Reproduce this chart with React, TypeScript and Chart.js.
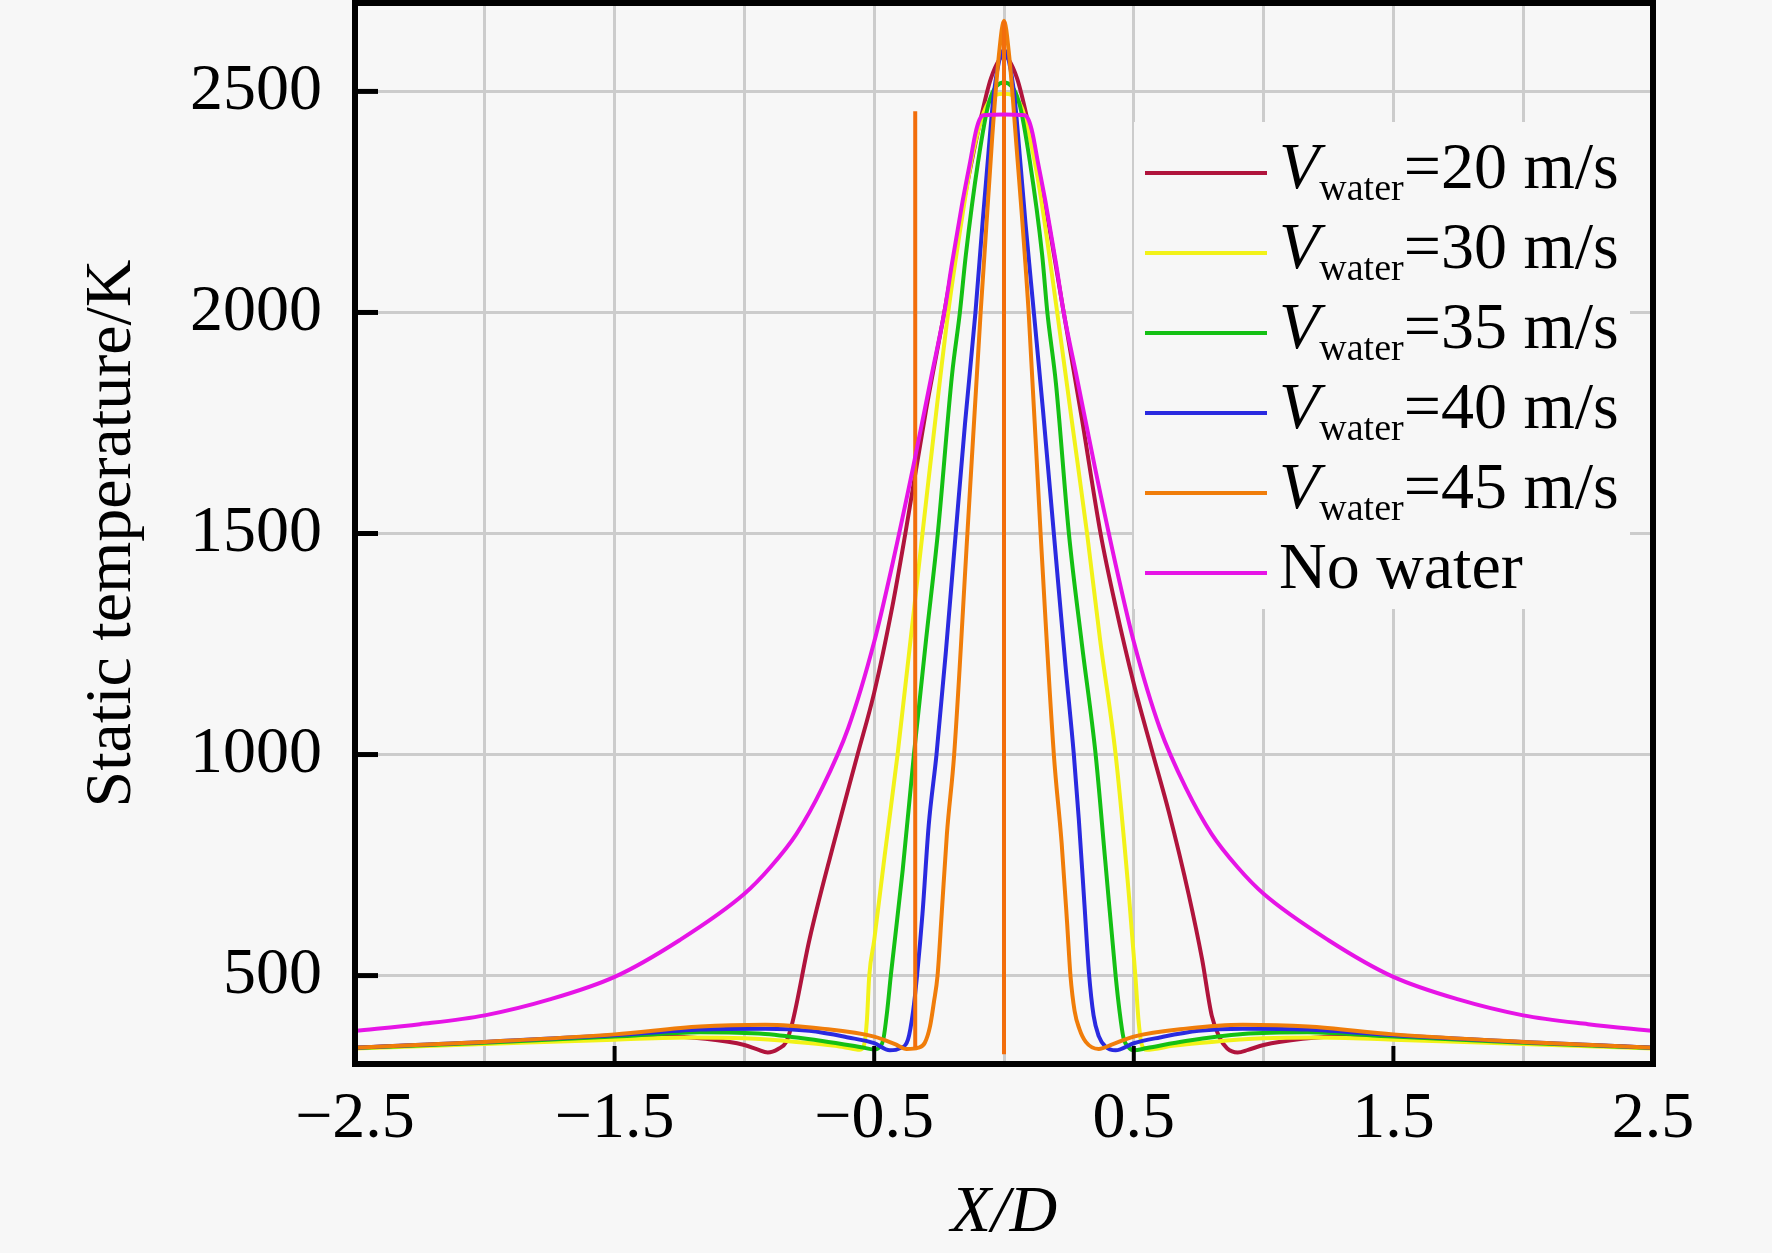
import { useEffect, useRef } from 'react';
import { Chart, registerables } from 'chart.js';

Chart.register(...registerables);

const FONT = "'Liberation Serif', 'Times New Roman', Times, serif";

// axis ticks
const X_GRID = [-2.5, -2, -1.5, -1, -0.5, 0, 0.5, 1, 1.5, 2, 2.5];
const X_LABELED = [-2.5, -1.5, -0.5, 0.5, 1.5, 2.5];
const Y_TICKS = [500, 1000, 1500, 2000, 2500];

// [X/D, static temperature K]
const V20: [number, number][] = [
  [-2.5, 337], [-2.0, 348], [-1.5, 360], [-1.3, 363], [-1.15, 357], [-1.0, 343], [-0.95, 333],
  [-0.91, 326], [-0.87, 334], [-0.84, 349], [-0.815, 394], [-0.75, 580], [-0.66, 790],
  [-0.564, 1000], [-0.5, 1140], [-0.43, 1335], [-0.38, 1500], [-0.3, 1780], [-0.23, 2000],
  [-0.16, 2235], [-0.1, 2410], [-0.05, 2530], [0, 2580], [0.05, 2530], [0.1, 2410], [0.16, 2240],
  [0.23, 2000], [0.3, 1760], [0.372, 1500], [0.43, 1335], [0.5, 1160], [0.574, 1000],
  [0.635, 870], [0.712, 682], [0.763, 537], [0.8, 410], [0.83, 360], [0.86, 335], [0.9, 326],
  [0.94, 332], [1.0, 343], [1.15, 357], [1.3, 363], [1.5, 360], [2.0, 348], [2.5, 337],
];

const V30: [number, number][] = [
  [-2.5, 335], [-2.0, 345], [-1.5, 355], [-1.2, 360], [-1.0, 358], [-0.8, 350], [-0.65, 341],
  [-0.58, 334], [-0.555, 332], [-0.538, 345], [-0.528, 400], [-0.519, 500], [-0.5, 580],
  [-0.46, 770], [-0.41, 1000], [-0.314, 1500], [-0.26, 1780], [-0.215, 2000], [-0.16, 2220],
  [-0.12, 2360], [-0.065, 2470], [0, 2495], [0.065, 2468], [0.125, 2320], [0.205, 2000],
  [0.26, 1760], [0.32, 1500], [0.37, 1260], [0.43, 1000], [0.48, 690], [0.506, 500], [0.518, 400],
  [0.53, 345], [0.55, 332], [0.58, 334], [0.65, 341], [0.8, 350], [1.0, 358], [1.2, 360],
  [1.5, 355], [2.0, 345], [2.5, 335],
];

const V35: [number, number][] = [
  [-2.5, 336], [-2.0, 348], [-1.5, 362], [-1.17, 372], [-0.92, 368], [-0.7, 352], [-0.55, 338],
  [-0.5, 333], [-0.48, 338], [-0.465, 355], [-0.45, 420], [-0.436, 500], [-0.39, 740],
  [-0.347, 1000], [-0.3, 1261], [-0.255, 1500], [-0.2, 1860], [-0.17, 2000], [-0.147, 2130],
  [-0.1, 2340], [-0.058, 2475], [0, 2520], [0.058, 2475], [0.1, 2340], [0.147, 2130],
  [0.167, 2000], [0.2, 1840], [0.25, 1500], [0.3, 1250], [0.353, 1000], [0.39, 760], [0.43, 500],
  [0.445, 420], [0.46, 360], [0.48, 338], [0.5, 331], [0.55, 336], [0.7, 352], [0.92, 368],
  [1.17, 372], [1.5, 362], [2.0, 348], [2.5, 336],
];

const V40: [number, number][] = [
  [-2.5, 337], [-2.0, 350], [-1.5, 365], [-1.17, 378], [-0.92, 380], [-0.75, 375], [-0.6, 360],
  [-0.5, 347], [-0.44, 331], [-0.4, 336], [-0.37, 355], [-0.35, 420], [-0.335, 500],
  [-0.314, 640], [-0.29, 840], [-0.26, 1000], [-0.224, 1232], [-0.186, 1500], [-0.15, 1750],
  [-0.11, 2000], [-0.083, 2200], [-0.06, 2360], [-0.04, 2490], [-0.02, 2565], [0, 2595],
  [0.02, 2565], [0.04, 2490], [0.06, 2360], [0.083, 2200], [0.115, 2000], [0.15, 1780],
  [0.192, 1500], [0.237, 1200], [0.269, 1000], [0.288, 855], [0.31, 660], [0.327, 508],
  [0.345, 410], [0.365, 363], [0.39, 340], [0.43, 331], [0.5, 347], [0.6, 360], [0.75, 375],
  [0.92, 380], [1.17, 378], [1.5, 365], [2.0, 350], [2.5, 337],
];

const V45: [number, number][] = [
  [-2.5, 337], [-2.0, 350], [-1.5, 367], [-1.17, 385], [-0.92, 389], [-0.7, 380], [-0.5, 362],
  [-0.42, 345], [-0.375, 334], [-0.33, 337], [-0.305, 348], [-0.285, 385], [-0.27, 440],
  [-0.256, 500], [-0.24, 640], [-0.22, 820], [-0.192, 1000], [-0.141, 1500], [-0.09, 2000],
  [-0.045, 2400], [-0.02, 2580], [0, 2660], [0.02, 2580], [0.045, 2400], [0.095, 2000],
  [0.141, 1500], [0.192, 1000], [0.222, 800], [0.243, 620], [0.256, 500], [0.272, 420],
  [0.29, 380], [0.315, 350], [0.365, 334], [0.42, 345], [0.5, 362], [0.7, 380], [0.92, 389],
  [1.17, 385], [1.5, 367], [2.0, 350], [2.5, 337],
];

// the two vertical jumps in the 45 m/s curve
const V45_JUMP_A: [number, number][] = [[-0.342, 338], [-0.342, 2455]];
const V45_JUMP_B: [number, number][] = [[0, 322], [0, 2660]];

const NO_WATER: [number, number][] = [
  [-2.5, 375], [-2.25, 390], [-2.0, 410], [-1.75, 446], [-1.5, 497], [-1.25, 580], [-1.0, 685],
  [-0.9, 745], [-0.8, 820], [-0.7, 925], [-0.6, 1060], [-0.5, 1255], [-0.43, 1430], [-0.35, 1650],
  [-0.28, 1855], [-0.23, 2000], [-0.2, 2112], [-0.16, 2250], [-0.13, 2342], [-0.11, 2405],
  [-0.095, 2435], [-0.08, 2446], [0, 2448], [0.08, 2446], [0.095, 2435], [0.11, 2405],
  [0.13, 2342], [0.16, 2250], [0.2, 2112], [0.23, 2000], [0.28, 1855], [0.35, 1650], [0.43, 1430],
  [0.5, 1255], [0.6, 1060], [0.7, 925], [0.8, 820], [0.9, 745], [1.0, 685], [1.25, 580],
  [1.5, 497], [1.75, 446], [2.0, 410], [2.25, 390], [2.5, 375],
];

const LEGEND = [
  { text: '=20 m/s', sub: true, color: '#b0143c' },
  { text: '=30 m/s', sub: true, color: '#f2f218' },
  { text: '=35 m/s', sub: true, color: '#14c014' },
  { text: '=40 m/s', sub: true, color: '#2a2ae0' },
  { text: '=45 m/s', sub: true, color: '#f07d0a' },
  { text: 'No water', sub: false, color: '#e614e6' },
];

const toXY = (pts: [number, number][]) => pts.map(([x, y]) => ({ x, y }));

const fmtX = (v: number) => (v < 0 ? '\u2212' + Math.abs(v).toFixed(1) : v.toFixed(1));

const framePlugin = {
  id: 'frame',
  afterDatasetsDraw(chart: any) {
    const { ctx, chartArea: a, scales } = chart;
    ctx.save();
    ctx.strokeStyle = '#000';
    ctx.lineWidth = 4;
    X_LABELED.forEach((v) => {
      const px = scales.x.getPixelForValue(v);
      ctx.beginPath();
      ctx.moveTo(px, a.bottom);
      ctx.lineTo(px, a.bottom - 18);
      ctx.stroke();
    });
    ctx.lineWidth = 5;
    Y_TICKS.forEach((v) => {
      const py = scales.y.getPixelForValue(v);
      ctx.beginPath();
      ctx.moveTo(a.left, py);
      ctx.lineTo(a.left + 23, py);
      ctx.stroke();
    });
    ctx.lineWidth = 6;
    ctx.strokeRect(a.left, a.top, a.right - a.left, a.bottom - a.top);
    ctx.restore();
  },
};

const legendPlugin = {
  id: 'subLegend',
  afterDraw(chart: any) {
    const { ctx, chartArea: a } = chart;
    ctx.save();
    // legend box hides the grid behind it
    ctx.fillStyle = '#f7f7f7';
    ctx.fillRect(a.left + 779, a.top + 119, 496, 487);
    ctx.textBaseline = 'alphabetic';
    LEGEND.forEach((item, i) => {
      const y = a.top + 170 + 80 * i;
      ctx.strokeStyle = item.color;
      ctx.lineWidth = 4;
      ctx.beginPath();
      ctx.moveTo(a.left + 790, y);
      ctx.lineTo(a.left + 912, y);
      ctx.stroke();
      ctx.fillStyle = '#000';
      let tx = a.left + 924;
      const base = y + 15;
      if (item.sub) {
        ctx.font = `italic 66px ${FONT}`;
        ctx.fillText('V', tx, base);
        tx += ctx.measureText('V').width;
        ctx.font = `38px ${FONT}`;
        ctx.fillText('water', tx, base + 12);
        tx += ctx.measureText('water').width;
      }
      ctx.font = `66px ${FONT}`;
      ctx.fillText(item.text, tx, base);
    });
    ctx.restore();
  },
};

export default function App() {
  const canvasRef = useRef<HTMLCanvasElement | null>(null);
  const chartRef = useRef<Chart | null>(null);

  useEffect(() => {
    document.body.style.margin = '0';
    document.body.style.background = '#f7f7f7';
    if (!canvasRef.current) return;
    if (chartRef.current) chartRef.current.destroy();

    const line = (data: [number, number][], color: string, order: number, smooth = true) => ({
      data: toXY(data),
      borderColor: color,
      backgroundColor: color,
      borderWidth: 4,
      pointRadius: 0,
      fill: false,
      order,
      cubicInterpolationMode: smooth ? ('monotone' as const) : ('default' as const),
      tension: smooth ? 0.4 : 0,
    });

    chartRef.current = new Chart(canvasRef.current, {
      type: 'line',
      data: {
        datasets: [
          line(V20, LEGEND[0].color, 7),
          line(V30, LEGEND[1].color, 6),
          line(V35, LEGEND[2].color, 5),
          line(V40, LEGEND[3].color, 4),
          line(V45, LEGEND[4].color, 3),
          line(V45_JUMP_A, '#f26e0c', 2, false),
          line(V45_JUMP_B, '#f26e0c', 2, false),
          line(NO_WATER, LEGEND[5].color, 1),
        ],
      },
      options: {
        responsive: true,
        maintainAspectRatio: false,
        animation: false,
        devicePixelRatio: 1,
        layout: { padding: { top: 3, right: 119, bottom: 0, left: 0 } },
        plugins: { legend: { display: false }, tooltip: { enabled: false } },
        scales: {
          x: {
            type: 'linear',
            min: -2.5,
            max: 2.5,
            afterBuildTicks: (s: any) => {
              s.ticks = X_GRID.map((value) => ({ value }));
            },
            afterFit: (s: any) => {
              s.height = 189;
              s.paddingLeft = 0;
              s.paddingRight = 0;
            },
            ticks: {
              autoSkip: false,
              maxRotation: 0,
              padding: 16,
              color: '#000',
              font: { family: FONT, size: 66 },
              callback: (v: any) => (X_LABELED.some((l) => Math.abs(l - v) < 1e-6) ? fmtX(Number(v)) : ''),
            },
            grid: { color: '#cccccc', lineWidth: 3, drawTicks: false },
            border: { display: false },
            title: {
              display: true,
              text: 'X/D',
              color: '#000',
              font: { family: FONT, size: 66, style: 'italic' },
              padding: { top: 0, bottom: 0 },
            },
          },
          y: {
            type: 'linear',
            min: 300,
            max: 2700,
            afterBuildTicks: (s: any) => {
              s.ticks = Y_TICKS.map((value) => ({ value }));
            },
            afterFit: (s: any) => {
              s.width = 355;
              s.paddingTop = 0;
              s.paddingBottom = 0;
            },
            ticks: {
              autoSkip: false,
              padding: 33,
              color: '#000',
              font: { family: FONT, size: 66 },
              callback: (v: any) => String(v),
            },
            grid: { color: '#cccccc', lineWidth: 3, drawTicks: false },
            border: { display: false },
            title: {
              display: true,
              text: 'Static temperature/K',
              color: '#000',
              font: { family: FONT, size: 66 },
              padding: { top: 73, bottom: 0 },
            },
          },
        },
      },
      plugins: [framePlugin, legendPlugin],
    });

    return () => {
      if (chartRef.current) {
        chartRef.current.destroy();
        chartRef.current = null;
      }
    };
  }, []);

  return (
    <div style={{ width: 1772, height: 1253, position: 'relative', background: '#f7f7f7' }}>
      <canvas ref={canvasRef} />
    </div>
  );
}
